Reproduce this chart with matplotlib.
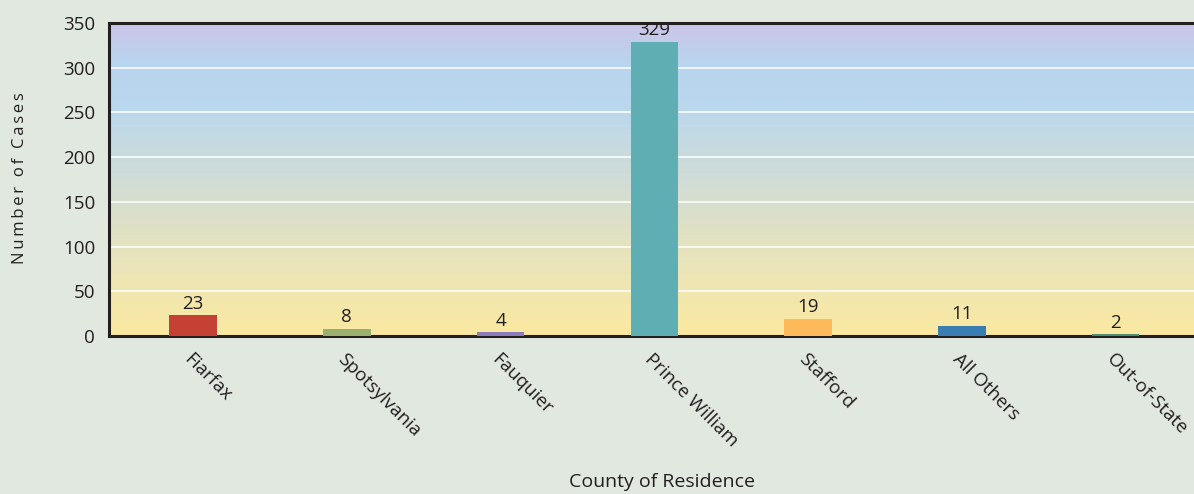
import numpy as np
import matplotlib.pyplot as plt
from matplotlib.colors import LinearSegmentedColormap

# ── Data ───────────────────────────────────────────────────────────────────────
counties = ['Fiarfax', 'Spotsylvania', 'Fauquier', 'Prince William',
            'Stafford', 'All Others', 'Out-of-State']
cases = [23, 8, 4, 329, 19, 11, 2]
bar_colors = ['#c44133', '#9cb06e', '#8b7bb8', '#5faeb3',
              '#fdb95a', '#3a7db0', '#4d8f6e']
y_ticks = [0, 50, 100, 150, 200, 250, 300, 350]

plt.rcParams['font.family'] = ['Open Sans', 'DejaVu Sans']
BG = '#e1e8df'
TXT = '#231f20'

fig = plt.figure(figsize=(11.94, 4.94), dpi=100, facecolor=BG)
ax = fig.add_axes([109 / 1194, 1 - 336 / 494, (1194 - 109) / 1194, (336 - 23) / 494])

# ── Gradient background of the plot area ──────────────────────────────────────
grad = LinearSegmentedColormap.from_list('bg', [
    (0.0, '#fbe9a0'), (0.25, '#e8e4bc'), (0.5, '#d0dcd6'),
    (0.75, '#b9d7ef'), (0.88, '#b9d4ee'), (1.0, '#ccc5e6')])
xlim = (-0.547, 6.51)
ax.imshow(np.linspace(0, 1, 256).reshape(-1, 1), cmap=grad, origin='lower',
          extent=[xlim[0], xlim[1], 0, 350], aspect='auto', zorder=0)

x = np.arange(len(counties))
ax.bar(x, cases, width=0.31, color=bar_colors, zorder=3)
for xi, v in zip(x, cases):
    ax.text(xi, v + 3, str(v), ha='center', va='bottom', fontsize=13.5,
            color=TXT, zorder=4)

ax.set_xlim(*xlim)
ax.set_ylim(0, 350)
ax.set_yticks(y_ticks)
ax.set_yticklabels([str(t) for t in y_ticks], fontsize=13.5, color=TXT)
for t in y_ticks[1:-1]:
    ax.axhline(t, color='white', lw=1.1, zorder=1)

ax.set_xticks(x)
ax.set_xticklabels(counties, rotation=-45, ha='left', va='top',
                   rotation_mode='anchor', fontsize=13.5, color=TXT)
ax.tick_params(axis='both', length=0)
ax.tick_params(axis='x', pad=10)
ax.tick_params(axis='y', pad=10)

for side in ['left', 'top', 'bottom']:
    ax.spines[side].set_linewidth(2.2)
    ax.spines[side].set_color(TXT)
ax.spines['right'].set_visible(False)

# letter-spaced axis title
ylab = '\u2009'.join('Number of Cases')
fig.text(20 / 1194, 1 - 178 / 494, ylab, rotation=90, ha='center', va='center',
         fontsize=12, color=TXT)
fig.text(662 / 1194, 1 - 482 / 494, 'County of Residence',
         ha='center', va='center', fontsize=14, color=TXT)

plt.savefig('out.png', dpi=100, facecolor=BG)
